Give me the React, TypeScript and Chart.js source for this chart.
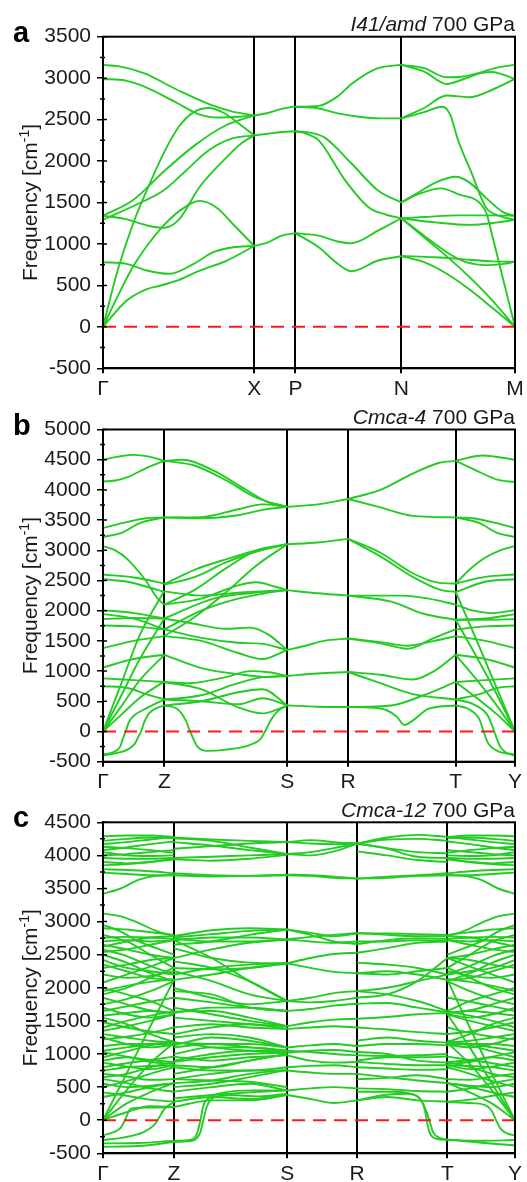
import React, { useEffect, useRef } from 'react';
import { Chart, registerables } from 'chart.js';
Chart.register(...registerables);

type Line = number[] | number[][];

// ---------- Panel a : I41/amd ----------
const A_LABELS = ['Γ', 'X', 'P', 'N', 'M'];
const A_KPOS = [0, 0.367, 0.467, 0.724, 1];
const A_GX: Line[] = [
  [[0, 3160], [0.1, 3145], [0.27, 3060], [0.49, 2860], [0.71, 2680], [0.85, 2600], [1, 2550]],
  [[0, 2990], [0.15, 2970], [0.27, 2900], [0.49, 2700], [0.64, 2560], [0.77, 2525], [0.9, 2535], [1, 2550]],
  [[0, 0], [0.1, 700], [0.2, 1250], [0.3, 1690], [0.4, 2090], [0.5, 2410], [0.6, 2590], [0.7, 2640], [0.8, 2580], [0.9, 2450], [1, 2310]],
  [[0, 1340], [0.2, 1530], [0.4, 1870], [0.6, 2180], [0.8, 2420], [1, 2550]],
  [[0, 1290], [0.25, 1500], [0.4, 1645], [0.55, 1887], [0.7, 2130], [0.85, 2270], [1, 2310]],
  [[0, 1340], [0.15, 1300], [0.3, 1220], [0.4, 1195], [0.5, 1290], [0.64, 1690], [0.82, 2050], [0.92, 2220], [1, 2310]],
  [[0, 0], [0.1, 380], [0.2, 730], [0.3, 1000], [0.4, 1220], [0.5, 1390], [0.64, 1520], [0.75, 1440], [0.87, 1220], [1, 975]],
  [[0, 780], [0.155, 760], [0.29, 680], [0.44, 640], [0.6, 760], [0.73, 900], [0.86, 960], [1, 975]],
  [[0, 0], [0.155, 315], [0.29, 456], [0.376, 496], [0.49, 557], [0.64, 678], [0.82, 800], [1, 975]],
];
const A_XP: Line[] = [
  [2550, 2580, 2630, 2660],
  [2310, 2330, 2350, 2360],
  [975, 1020, 1100, 1130],
];
const A_PN: Line[] = [
  [[0, 2655], [0.22, 2665], [0.4, 2780], [0.53, 2930], [0.78, 3120], [1, 3160]],
  [[0, 2655], [0.2, 2640], [0.4, 2575], [0.6, 2535], [0.8, 2515], [1, 2515]],
  [[0, 2360], [0.15, 2340], [0.28, 2280], [0.53, 1970], [0.78, 1645], [1, 1500]],
  [[0, 2360], [0.1, 2330], [0.22, 2250], [0.47, 1767], [0.69, 1444], [0.85, 1355], [1, 1310]],
  [[0, 1130], [0.22, 1100], [0.4, 1030], [0.53, 1008], [0.78, 1160], [1, 1310]],
  [[0, 1130], [0.22, 960], [0.4, 760], [0.53, 670], [0.78, 800], [1, 851]],
];
const A_NM: Line[] = [
  [[0, 3160], [0.2, 3120], [0.4, 3010], [0.55, 3020], [0.7, 3070], [0.85, 3130], [1, 3160]],
  [[0, 3160], [0.2, 3080], [0.4, 2930], [0.55, 2990], [0.7, 3060], [0.8, 3075], [0.9, 3040], [1, 2990]],
  [[0, 2515], [0.2, 2640], [0.4, 2790], [0.6, 2770], [0.8, 2860], [1, 2990]],
  [[0, 2515], [0.2, 2590], [0.36, 2655], [0.43, 2560], [0.5, 2250], [0.62, 1850], [0.74, 1450], [0.86, 1340], [1, 1290]],
  [[0, 1500], [0.15, 1620], [0.3, 1740], [0.48, 1810], [0.6, 1740], [0.75, 1550], [0.9, 1380], [1, 1340]],
  [[0, 1500], [0.15, 1600], [0.35, 1670], [0.5, 1600], [0.74, 1400], [0.8, 1100], [0.9, 550], [1, 0]],
  [[0, 1310], [0.2, 1325], [0.5, 1345], [0.8, 1345], [1, 1340]],
  [[0, 1310], [0.3, 1260], [0.6, 1230], [0.85, 1260], [1, 1290]],
  [[0, 1310], [0.2, 1100], [0.4, 900], [0.55, 790], [0.75, 745], [0.9, 760], [1, 786]],
  [[0, 1310], [0.2, 1080], [0.4, 850], [0.6, 600], [0.8, 320], [1, 0]],
  [[0, 855], [0.3, 840], [0.6, 810], [0.8, 790], [1, 786]],
  [[0, 855], [0.2, 780], [0.4, 640], [0.6, 450], [0.8, 230], [1, 0]],
];

// ---------- Panel b : Cmca-4 ----------
const B_LABELS = ['Γ', 'Z', 'S', 'R', 'T', 'Y'];
const B_KPOS = [0, 0.149, 0.447, 0.595, 0.856, 1];
const B_GZ: Line[] = [
  [4500, 4550, 4580, 4550, 4480],
  [[0, 4140], [0.2, 4155], [0.4, 4210], [0.68, 4350], [1, 4480]],
  [[0, 3370], [0.4, 3470], [0.7, 3530], [1, 3545]],
  [[0, 3220], [0.3, 3290], [0.6, 3450], [1, 3545]],
  [[0, 3070], [0.2, 3000], [0.4, 2850], [0.68, 2520], [0.9, 2190], [1, 2100]],
  [[0, 2600], [0.5, 2550], [1, 2450]],
  [[0, 2520], [0.4, 2480], [0.7, 2400], [1, 2310]],
  [[0, 2010], [0.5, 1960], [1, 1870]],
  [[0, 1944], [0.5, 1870], [1, 1690]],
  [[0, 1860], [0.5, 1880], [1, 1870]],
  [[0, 1756], [0.5, 1740], [1, 1690]],
  [[0, 1380], [0.5, 1500], [1, 1580]],
  [[0, 1060], [0.5, 1200], [1, 1270]],
  [[0, 880], [0.5, 850], [1, 820]],
  [[0, 750], [0.4, 720], [0.7, 620], [1, 530]],
  [[0, 0], [0.3, 800], [0.6, 1600], [1, 2330]],
  [[0, 0], [0.3, 600], [0.6, 1200], [1, 1870]],
  [[0, 0], [0.3, 420], [0.6, 850], [1, 1270]],
  [[0, 0], [0.3, 280], [0.6, 560], [1, 830]],
  [[0, -380], [0.15, -350], [0.28, -250], [0.33, -100], [0.37, 0], [0.42, 150], [0.5, 260], [0.7, 380], [1, 530]],
  [[0, -400], [0.2, -360], [0.4, -300], [0.52, -200], [0.58, -80], [0.62, 0], [0.67, 150], [0.75, 300], [0.9, 400], [1, 430]],
];
const B_ZS: Line[] = [
  [[0, 4480], [0.25, 4400], [0.5, 4160], [0.75, 3870], [1, 3720]],
  [[0, 4480], [0.15, 4500], [0.4, 4320], [0.65, 4020], [0.85, 3790], [1, 3720]],
  [[0, 3545], [0.3, 3530], [0.6, 3580], [0.8, 3670], [1, 3720]],
  [[0, 3545], [0.3, 3550], [0.6, 3680], [0.8, 3760], [1, 3720]],
  [[0, 2440], [0.25, 2680], [0.5, 2850], [0.75, 3000], [1, 3100]],
  [[0, 2430], [0.25, 2560], [0.5, 2800], [0.75, 2980], [1, 3100]],
  [[0, 2100], [0.25, 2350], [0.5, 2700], [0.75, 3000], [1, 3100]],
  [[0, 1580], [0.25, 1900], [0.5, 2300], [0.75, 2750], [1, 3100]],
  [[0, 2320], [0.3, 2250], [0.6, 2300], [1, 2340]],
  [[0, 2100], [0.3, 2200], [0.6, 2420], [0.75, 2470], [0.9, 2400], [1, 2340]],
  [[0, 1870], [0.4, 2200], [0.75, 2300], [1, 2340]],
  [[0, 1690], [0.3, 2000], [0.6, 2200], [0.85, 2300], [1, 2340]],
  [[0, 1870], [0.2, 1800], [0.5, 1700], [0.7, 1720], [0.85, 1600], [1, 1350]],
  [[0, 1690], [0.3, 1550], [0.6, 1470], [0.8, 1450], [1, 1350]],
  [[0, 1580], [0.3, 1500], [0.6, 1300], [0.8, 1200], [1, 1350]],
  [[0, 1270], [0.3, 1050], [0.6, 950], [0.85, 900], [1, 920]],
  [[0, 820], [0.2, 800], [0.5, 900], [0.7, 1000], [0.85, 980], [1, 920]],
  [[0, 530], [0.3, 600], [0.6, 800], [0.8, 900], [1, 920]],
  [[0, 530], [0.3, 500], [0.6, 450], [0.8, 550], [1, 433]],
  [[0, 430], [0.3, 500], [0.6, 650], [0.8, 700], [1, 433]],
  [[0, 820], [0.3, 700], [0.6, 400], [0.8, 300], [0.9, 350], [1, 433]],
  [[0, 430], [0.1, 380], [0.17, 200], [0.21, 0], [0.27, -250], [0.35, -320], [0.5, -300], [0.7, -220], [0.78, -130], [0.82, 0], [0.87, 200], [0.93, 350], [1, 433]],
];
const B_SR: Line[] = [
  [[0, 3720], [0.5, 3760], [1, 3850]],
  [[0, 3100], [0.5, 3130], [1, 3190]],
  [[0, 2340], [0.5, 2290], [1, 2250]],
  [[0, 1350], [0.3, 1420], [0.6, 1500], [1, 1540]],
  [[0, 920], [0.5, 960], [1, 985]],
  [[0, 433], [0.5, 410], [1, 405]],
];
const B_RT: Line[] = [
  [[0, 3850], [0.3, 4000], [0.6, 4270], [0.85, 4450], [1, 4480]],
  [[0, 3850], [0.3, 3710], [0.6, 3570], [1, 3545]],
  [[0, 3190], [0.3, 2960], [0.6, 2620], [0.85, 2460], [1, 2450]],
  [[0, 3190], [0.3, 2900], [0.6, 2560], [0.85, 2350], [1, 2310]],
  [[0, 2250], [0.5, 2250], [0.75, 2200], [1, 2100]],
  [[0, 2250], [0.4, 2150], [0.7, 1950], [1, 1850]],
  [[0, 1540], [0.3, 1480], [0.55, 1420], [0.8, 1500], [1, 1580]],
  [[0, 1540], [0.3, 1460], [0.55, 1370], [0.8, 1550], [1, 1690]],
  [[0, 985], [0.3, 940], [0.6, 860], [0.8, 1000], [1, 1270]],
  [[0, 985], [0.3, 800], [0.6, 620], [1, 530]],
  [[0, 405], [0.3, 380], [0.45, 250], [0.52, 110], [0.6, 180], [0.75, 380], [1, 430]],
  [[0, 405], [0.4, 430], [0.7, 600], [1, 820]],
];
const B_TY: Line[] = [
  [[0, 4480], [0.45, 4570], [1, 4500]],
  [[0, 4480], [0.35, 4320], [0.7, 4170], [1, 4130]],
  [[0, 3545], [0.3, 3530], [0.6, 3470], [1, 3370]],
  [[0, 3545], [0.4, 3450], [0.7, 3290], [1, 3220]],
  [[0, 2450], [0.2, 2650], [0.5, 2880], [0.75, 3000], [1, 3070]],
  [[0, 2450], [0.5, 2560], [1, 2600]],
  [[0, 2310], [0.5, 2480], [1, 2520]],
  [[0, 2100], [0.3, 2000], [0.6, 1960], [1, 2010]],
  [[0, 1850], [0.5, 1870], [1, 1944]],
  [[0, 1850], [0.5, 1850], [1, 1860]],
  [[0, 1690], [0.5, 1740], [1, 1756]],
  [[0, 1580], [0.5, 1500], [1, 1380]],
  [[0, 1270], [0.5, 1200], [1, 1060]],
  [[0, 820], [0.5, 850], [1, 880]],
  [[0, 530], [0.4, 620], [0.7, 720], [1, 750]],
  [[0, 2310], [0.4, 1400], [0.7, 700], [1, 0]],
  [[0, 1850], [0.4, 1150], [0.7, 600], [1, 0]],
  [[0, 1270], [0.4, 800], [0.7, 420], [1, 0]],
  [[0, 820], [0.4, 520], [0.7, 280], [1, 0]],
  [[0, 430], [0.2, 380], [0.4, 200], [0.47, 0], [0.55, -200], [0.7, -320], [1, -380]],
  [[0, 530], [0.3, 450], [0.55, 250], [0.65, 0], [0.75, -250], [0.85, -350], [1, -400]],
];

// ---------- Panel c : Cmca-12 ----------
const C_LABELS = ['Γ', 'Z', 'S', 'R', 'T', 'Y'];
const C_KPOS = [0, 0.172, 0.447, 0.617, 0.836, 1];
const C_GZ: Line[] = [
  [4290, 4300, 4300, 4280], [4170, 4200, 4240, 4280], [4130, 4110, 4080, 4040], [4080, 4120, 4170, 4210],
  [4000, 4020, 4050, 4080], [3960, 3950, 3950, 3960], [3900, 3880, 3900, 3940], [3790, 3780, 3760, 3730],
  [3740, 3720, 3700, 3700], [3420, 3500, 3630, 3690, 3700],
  [4220, 4250, 4270, 4260], [4050, 4000, 3990, 4000], [3850, 3870, 3900, 3950],
  [3120, 3080, 2980, 2860, 2780], [2900, 2880, 2840, 2800], [2800, 2700, 2500, 2300], [2760, 2770, 2760, 2740],
  [2700, 2720, 2700, 2720], [2650, 2580, 2500, 2450], [2580, 2480, 2330, 2200], [2540, 2580, 2650, 2720],
  [2500, 2380, 2220, 2100], [2300, 2350, 2420, 2450], [2200, 2150, 2180, 2250], [2080, 2200, 2320, 2450],
  [1950, 2030, 2090, 2130], [1850, 1750, 1660, 1620], [1750, 1830, 1950, 2100], [1650, 1720, 1790, 1850],
  [1580, 1620, 1650, 1620], [1480, 1400, 1340, 1300], [1400, 1500, 1580, 1640], [1300, 1250, 1200, 1170],
  [1220, 1260, 1320, 1400], [1120, 1150, 1150, 1130], [1030, 960, 910, 880], [950, 1040, 1130, 1200],
  [870, 810, 770, 830], [800, 860, 910, 960], [700, 660, 610, 620], [620, 560, 480, 430],
  [500, 590, 700, 800], [420, 370, 310, 280],
  [2950, 2850, 2700, 2600, 2500], [2620, 2700, 2760, 2780], [2420, 2300, 2250, 2200], [2350, 2250, 2150, 2120],
  [2000, 1900, 1800, 1650], [1900, 2000, 2150, 2300], [1700, 1600, 1550, 1600], [1550, 1450, 1300, 1180],
  [1350, 1420, 1500, 1600], [1250, 1150, 1100, 1140], [1050, 1100, 1150, 1170], [900, 950, 880, 850],
  [750, 800, 820, 830], [650, 700, 800, 880], [550, 500, 520, 560], [350, 420, 500, 560],
  [[0, 0], [0.33, 700], [0.66, 1400], [1, 2120]],
  [[0, 0], [0.33, 450], [0.66, 850], [1, 1170]],
  [[0, 0], [0.33, 250], [0.66, 420], [1, 560]],
  [[0, 0], [0.33, 120], [0.66, 210], [1, 200]],
  [[0, -230], [0.15, -180], [0.24, -125], [0.31, 0], [0.39, 175], [0.6, 190], [1, 200]],
  [[0, -300], [0.3, -260], [0.58, -175], [0.72, -75], [0.77, 0], [0.87, 175], [1, 270]],
  [[0, -350], [0.5, -345], [1, -310]],
  [[0, -400], [0.5, -390], [1, -330]],
];
const C_ZS: Line[] = [
  [4270, 4240, 4220, 4200], [4260, 4220, 4120, 4020], [4100, 4140, 4180, 4200], [4200, 4150, 4080, 4020],
  [3960, 3980, 4000, 4020], [3940, 3920, 3950, 4010], [3730, 3700, 3690, 3700], [3700, 3680, 3690, 3710],
  [2780, 2870, 2900, 2880], [2760, 2810, 2860, 2880], [2740, 2700, 2700, 2730], [2720, 2760, 2760, 2730],
  [2450, 2580, 2680, 2730], [2600, 2450, 2380, 2370], [2300, 2280, 2300, 2370], [2200, 2300, 2350, 2370],
  [2120, 2200, 2300, 2370], [2720, 2450, 2100, 1800], [2250, 2100, 1900, 1800], [2000, 1850, 1750, 1800],
  [1850, 1780, 1700, 1650], [1620, 1700, 1700, 1650], [1640, 1650, 1550, 1420], [1550, 1500, 1450, 1420],
  [1400, 1450, 1400, 1380], [1300, 1400, 1450, 1380], [1170, 1150, 1150, 1100], [1130, 1250, 1200, 1100],
  [1100, 1150, 1100, 1050], [1000, 1100, 1100, 1050], [880, 950, 1000, 1020], [830, 800, 900, 1000],
  [960, 900, 950, 980], [800, 750, 750, 800], [620, 700, 750, 750], [560, 600, 700, 760],
  [430, 500, 550, 450], [280, 350, 320, 380], [200, 300, 300, 380],
  [2650, 2700, 2800, 2880], [2400, 2300, 2100, 1800], [1950, 1900, 1700, 1650], [1700, 1600, 1500, 1420],
  [1250, 1300, 1250, 1100], [1180, 1100, 1050, 1020], [900, 1000, 1050, 1050], [700, 800, 900, 1000],
  [500, 550, 650, 760], [330, 380, 420, 450], [620, 600, 580, 500],
  [[0, -310], [0.1, -305], [0.16, -290], [0.2, -220], [0.235, 0], [0.26, 220], [0.3, 320], [0.45, 420], [0.7, 450], [1, 450]],
  [[0, -330], [0.12, -320], [0.19, -290], [0.23, -200], [0.26, 0], [0.29, 200], [0.34, 330], [0.5, 380], [0.75, 360], [1, 400]],
];
const C_SR: Line[] = [
  [4200, 4230, 4200, 4180], [4200, 4180, 4170, 4180], [4020, 4050, 4110, 4180], [4020, 4000, 4060, 4180],
  [3700, 3690, 3660, 3650], [3710, 3700, 3680, 3650],
  [2880, 2830, 2780, 2820], [2730, 2770, 2800, 2830], [2880, 2800, 2700, 2660], [2730, 2700, 2680, 2700],
  [2370, 2450, 2510, 2530], [2370, 2300, 2240, 2220], [1800, 1850, 1920, 1950], [1800, 1780, 1800, 1850],
  [1650, 1680, 1730, 1760], [1420, 1480, 1520, 1530], [1380, 1400, 1420, 1400], [1100, 1130, 1150, 1120],
  [1050, 1030, 1000, 980], [1020, 1050, 1060, 1030], [980, 900, 870, 880], [800, 820, 830, 800],
  [750, 720, 700, 700], [450, 480, 500, 480], [380, 320, 260, 300],
];
const C_RT: Line[] = [
  [4180, 4270, 4310, 4280], [4180, 4240, 4250, 4220], [4180, 4110, 4050, 4030], [4180, 4100, 3980, 3960],
  [4060, 4000, 3930, 3900], [3650, 3660, 3690, 3700], [3650, 3680, 3700, 3730],
  [2820, 2820, 2810, 2800], [2830, 2800, 2780, 2780], [2660, 2720, 2750, 2740], [2700, 2700, 2720, 2710],
  [2530, 2600, 2680, 2700], [2220, 2250, 2200, 2120], [2220, 2200, 2250, 2300], [1950, 2000, 2100, 2200],
  [1850, 1900, 2100, 2450], [1760, 1770, 1700, 1630], [1530, 1560, 1600, 1620], [1400, 1370, 1330, 1300],
  [1120, 1150, 1150, 1130], [980, 970, 980, 1000], [1030, 1000, 900, 870], [880, 850, 830, 830],
  [800, 780, 760, 770], [700, 650, 600, 560], [480, 470, 440, 430], [300, 350, 300, 280],
  [1950, 1900, 1800, 1650], [1200, 1250, 1200, 1170], [900, 950, 950, 960], [620, 640, 680, 620],
  [2380, 2350, 2300, 2200],
  [[0, 300], [0.3, 380], [0.55, 400], [0.7, 320], [0.75, 150], [0.77, 0], [0.8, -180], [0.88, -280], [1, -300]],
  [[0, 430], [0.4, 430], [0.65, 370], [0.73, 250], [0.78, 80], [0.8, 0], [0.84, -180], [0.92, -270], [1, -290]],
];
const C_TY: Line[] = [
  [4280, 4300, 4300, 4290], [4280, 4240, 4200, 4170], [4040, 4080, 4110, 4130], [4210, 4170, 4120, 4080],
  [4080, 4050, 4020, 4000], [3960, 3950, 3950, 3960], [3940, 3900, 3880, 3900], [3730, 3760, 3780, 3790],
  [3700, 3700, 3720, 3740], [3700, 3690, 3630, 3500, 3420],
  [4260, 4270, 4250, 4220], [4000, 3990, 4000, 4050], [3950, 3900, 3870, 3850],
  [2780, 2860, 2980, 3080, 3120], [2800, 2840, 2880, 2900], [2300, 2500, 2700, 2800], [2740, 2760, 2770, 2760],
  [2720, 2700, 2720, 2700], [2450, 2500, 2580, 2650], [2200, 2330, 2480, 2580], [2720, 2650, 2580, 2540],
  [2100, 2220, 2380, 2500], [2450, 2420, 2350, 2300], [2250, 2180, 2150, 2200], [2450, 2320, 2200, 2080],
  [2130, 2090, 2030, 1950], [1620, 1660, 1750, 1850], [2100, 1950, 1830, 1750], [1850, 1790, 1720, 1650],
  [1620, 1650, 1620, 1580], [1300, 1340, 1400, 1480], [1640, 1580, 1500, 1400], [1170, 1200, 1250, 1300],
  [1400, 1320, 1260, 1220], [1130, 1150, 1150, 1120], [880, 910, 960, 1030], [1200, 1130, 1040, 950],
  [830, 770, 810, 870], [960, 910, 860, 800], [620, 610, 660, 700], [430, 480, 560, 620],
  [800, 700, 590, 500], [280, 310, 370, 420],
  [2500, 2600, 2700, 2850, 2950], [2780, 2760, 2700, 2620], [2200, 2250, 2300, 2420], [2120, 2150, 2250, 2350],
  [1650, 1800, 1900, 2000], [2300, 2150, 2000, 1900], [1600, 1550, 1600, 1700], [1180, 1300, 1450, 1550],
  [1600, 1500, 1420, 1350], [1140, 1100, 1150, 1250], [1170, 1150, 1100, 1050], [850, 880, 950, 900],
  [830, 820, 800, 750], [880, 800, 700, 650], [560, 520, 500, 550], [560, 500, 420, 350],
  [[0, 2120], [0.33, 1400], [0.66, 700], [1, 0]],
  [[0, 1600], [0.33, 1100], [0.66, 550], [1, 0]],
  [[0, 1170], [0.33, 850], [0.66, 450], [1, 0]],
  [[0, 560], [0.33, 420], [0.66, 250], [1, 0]],
  [[0, 275], [0.3, 260], [0.55, 230], [0.65, 150], [0.72, 0], [0.78, -120], [0.88, -200], [1, -230]],
  [[0, -300], [0.5, -310], [1, -300]],
  [[0, -290], [0.5, -340], [1, -380]],
];

const A_TICKS = { min: -500, max: 3500 };
const B_TICKS = { min: -500, max: 5000 };
const C_TICKS = { min: -500, max: 4500 };

const GREEN = '#22cc22';
const FONT = "'Liberation Sans', Arial, Helvetica, sans-serif";
const TEXT = '#1a1a1a';

interface PanelSpec {
  key: string; top: number; height: number; areaTop: number; areaBottom: number;
  yMin: number; yMax: number; kpos: number[]; labels: string[]; segments: Line[][];
  letter: string; titleItalic: string; titleRest: string;
}

const PANELS: PanelSpec[] = [
  { key: 'a', top: 0, height: 400, areaTop: 36.7, areaBottom: 368.3, yMin: A_TICKS.min, yMax: A_TICKS.max,
    kpos: A_KPOS, labels: A_LABELS, segments: [A_GX, A_XP, A_PN, A_NM], letter: 'a', titleItalic: 'I41/amd', titleRest: ' 700 GPa' },
  { key: 'b', top: 392, height: 400, areaTop: 37.5, areaBottom: 369.7, yMin: B_TICKS.min, yMax: B_TICKS.max,
    kpos: B_KPOS, labels: B_LABELS, segments: [B_GZ, B_ZS, B_SR, B_RT, B_TY], letter: 'b', titleItalic: 'Cmca-4', titleRest: ' 700 GPa' },
  { key: 'c', top: 782, height: 400, areaTop: 40.3, areaBottom: 371.3, yMin: C_TICKS.min, yMax: C_TICKS.max,
    kpos: C_KPOS, labels: C_LABELS, segments: [C_GZ, C_ZS, C_SR, C_RT, C_TY], letter: 'c', titleItalic: 'Cmca-12', titleRest: ' 700 GPa' },
];

function segPoints(kpos: number[], si: number, line: Line) {
  const x0 = kpos[si];
  const x1 = kpos[si + 1];
  const pairs: number[][] = typeof line[0] === 'number'
    ? (line as number[]).map((v, i, arr) => [i / (arr.length - 1), v])
    : (line as number[][]);
  return pairs.map(([s, f]) => ({ x: x0 + s * (x1 - x0), y: f }));
}

function makeDecor(spec: PanelSpec) {
  return {
    id: 'decor' + spec.key,
    afterDraw(chart: any) {
      const ctx = chart.ctx as CanvasRenderingContext2D;
      const { left, right, top, bottom } = chart.chartArea;
      const ys = chart.scales.y;
      ctx.save();
      ctx.strokeStyle = '#000';
      ctx.lineWidth = 2;
      ctx.strokeRect(left, top, right - left, bottom - top);
      ctx.lineWidth = 1.5;
      ctx.beginPath();
      for (let v = spec.yMin; v <= spec.yMax; v += 250) {
        const y = ys.getPixelForValue(v);
        if (v % 500 === 0) {
          ctx.moveTo(left, y); ctx.lineTo(left + 4, y);
        } else {
          ctx.moveTo(left - 3, y); ctx.lineTo(left + 2, y);
        }
      }
      ctx.stroke();
      // title
      ctx.fillStyle = TEXT;
      ctx.textBaseline = 'alphabetic';
      ctx.textAlign = 'right';
      const tb = top - 5.5;
      ctx.font = `21px ${FONT}`;
      const restW = ctx.measureText(spec.titleRest).width;
      ctx.fillText(spec.titleRest, right, tb);
      ctx.font = `italic 21px ${FONT}`;
      ctx.fillText(spec.titleItalic, right - restW, tb);
      // panel letter
      ctx.textAlign = 'left';
      ctx.font = `bold 29px ${FONT}`;
      ctx.fillStyle = '#000';
      ctx.fillText(spec.letter, 13, top + 5);
      // y title
      ctx.fillStyle = TEXT;
      ctx.translate(37, (top + bottom) / 2);
      ctx.rotate(-Math.PI / 2);
      ctx.font = `21px ${FONT}`;
      const p1 = 'Frequency [cm';
      const p3 = ']';
      const w1 = ctx.measureText(p1).width;
      const w3 = ctx.measureText(p3).width;
      ctx.font = `14px ${FONT}`;
      const p2 = '-1';
      const w2 = ctx.measureText(p2).width;
      let x = -(w1 + w2 + w3) / 2;
      ctx.font = `21px ${FONT}`;
      ctx.fillText(p1, x, 0); x += w1;
      ctx.font = `14px ${FONT}`;
      ctx.fillText(p2, x, -8); x += w2;
      ctx.font = `21px ${FONT}`;
      ctx.fillText(p3, x, 0);
      ctx.restore();
    },
  };
}

function Panel({ spec }: { spec: PanelSpec }) {
  const ref = useRef<HTMLCanvasElement>(null);
  useEffect(() => {
    const kmax = spec.kpos[spec.kpos.length - 1];
    const datasets: any[] = [
      {
        data: [{ x: 0, y: 0 }, { x: kmax, y: 0 }],
        borderColor: '#ff1a1a', borderWidth: 2, borderDash: [13, 8], pointRadius: 0, order: -1,
      },
    ];
    spec.segments.forEach((seg, si) => {
      seg.forEach((line) => {
        datasets.push({
          data: segPoints(spec.kpos, si, line),
          borderColor: GREEN, borderWidth: 1.9, pointRadius: 0,
          cubicInterpolationMode: 'monotone', order: 0,
        });
      });
    });
    const chart = new Chart(ref.current as HTMLCanvasElement, {
      type: 'line',
      data: { datasets },
      options: {
        animation: false,
        responsive: false,
        devicePixelRatio: 1,
        events: [],
        layout: { padding: { top: spec.areaTop, right: 12, bottom: 0, left: 0 } },
        plugins: { legend: { display: false }, tooltip: { enabled: false }, title: { display: false } },
        scales: {
          x: {
            type: 'linear', min: 0, max: kmax,
            afterBuildTicks: (s: any) => { s.ticks = spec.kpos.map((v) => ({ value: v })); },
            afterFit: (s: any) => { s.height = spec.height - spec.areaBottom; },
            ticks: {
              autoSkip: false, maxRotation: 0, padding: 3,
              callback: (_v: any, i: number) => spec.labels[i],
              font: { family: FONT, size: 21 }, color: TEXT,
            },
            grid: { color: '#000', lineWidth: 2, tickLength: 5, drawOnChartArea: true, drawTicks: true },
            border: { display: true, color: '#000', width: 2 },
          },
          y: {
            type: 'linear', min: spec.yMin, max: spec.yMax,
            afterFit: (s: any) => { s.width = 103; },
            ticks: {
              stepSize: 500, padding: 6,
              callback: (v: any) => String(v),
              font: { family: FONT, size: 21 }, color: TEXT,
            },
            grid: { drawOnChartArea: false, drawTicks: true, tickLength: 6, color: '#000', lineWidth: 1.5 },
            border: { display: true, color: '#000', width: 2 },
          },
        },
      } as any,
      plugins: [makeDecor(spec)],
    });
    return () => chart.destroy();
  }, [spec]);
  return (
    <canvas
      ref={ref}
      width={527}
      height={spec.height}
      style={{ position: 'absolute', left: 0, top: spec.top, width: 527, height: spec.height }}
    />
  );
}

export default function App() {
  return (
    <div style={{ position: 'absolute', left: 0, top: 0, width: 527, height: 1182, background: '#fff', overflow: 'hidden' }}>
      {PANELS.map((p) => <Panel key={p.key} spec={p} />)}
    </div>
  );
}
